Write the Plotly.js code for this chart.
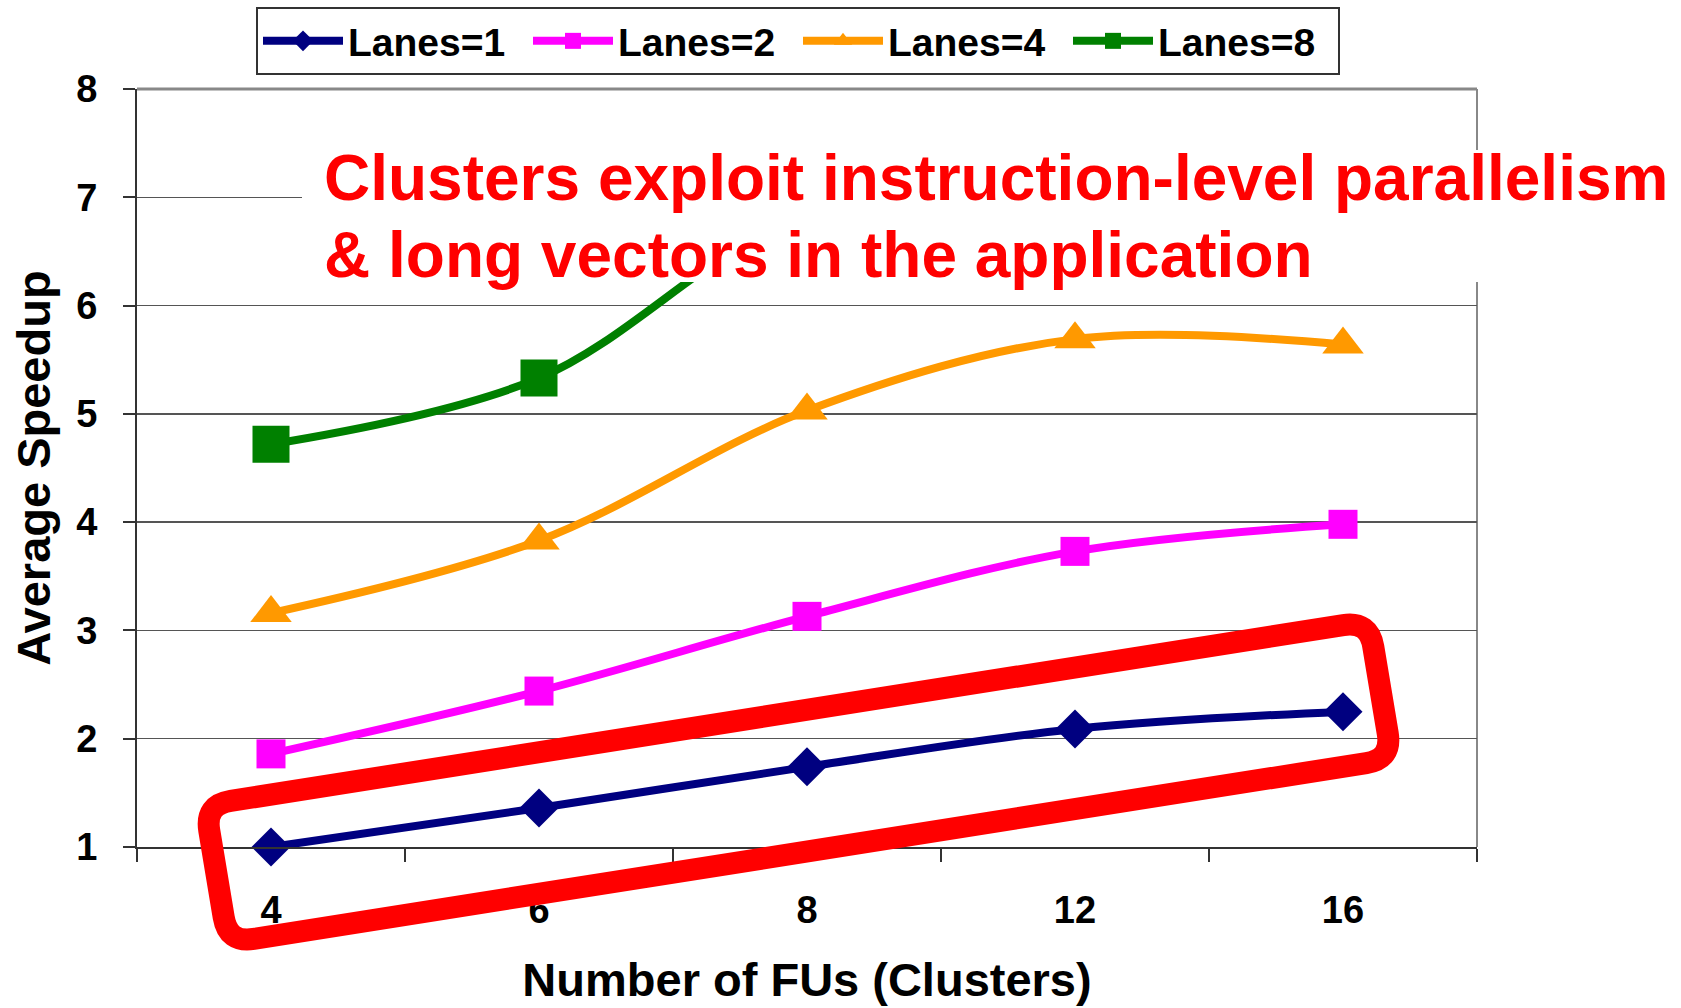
<!DOCTYPE html>
<html>
<head>
<meta charset="utf-8">
<script src="https://cdn.plot.ly/plotly-3.0.1.min.js"></script>
<style>
  html, body { margin: 0; padding: 0; background: #ffffff; }
  #chart { width: 1681px; height: 1008px; }
</style>
</head>
<body>
<div id="chart"></div>
<script>
// ---- Data ----
const categories = ['4', '6', '8', '12', '16'];
const lanes1 = [1.0, 1.36, 1.74, 2.09, 2.25];
const lanes2 = [1.86, 2.44, 3.13, 3.73, 3.98];
const lanes4 = [3.16, 3.83, 5.03, 5.69, 5.64];
const lanes8 = [4.72, 5.33, 6.85, 7.05, 7.15];   // last three hidden behind the callout
const seriesNames = ['Lanes=1', 'Lanes=2', 'Lanes=4', 'Lanes=8'];
const xTitle = 'Number of FUs (Clusters)';
const yTitle = 'Average Speedup';
const yTicks = [1, 2, 3, 4, 5, 6, 7, 8];
const calloutLine1 = 'Clusters exploit instruction-level parallelism';
const calloutLine2 = '&amp; long vectors in the application';

// ---- Layout geometry (pixels) ----
const W = 1681, H = 1008;
const M = { l: 137, r: 204, t: 89, b: 161, autoexpand: false };
const PW = W - M.l - M.r, PH = H - M.t - M.b;
const px = x => (x - M.l) / PW;
const py = y => (H - M.b - y) / PH;

const FONT = 'Arial, "Liberation Sans", sans-serif';

function roundedPath(corners, r) {
  const n = corners.length;
  const pts = [];
  for (let i = 0; i < n; i++) {
    const c = corners[i], p = corners[(i + n - 1) % n], q = corners[(i + 1) % n];
    const u = (a, b) => { const dx = a[0] - b[0], dy = a[1] - b[1]; const d = Math.hypot(dx, dy); return [dx / d, dy / d]; };
    const up = u(p, c), uq = u(q, c);
    pts.push({ a: [c[0] + up[0] * r, c[1] + up[1] * r], c: c, b: [c[0] + uq[0] * r, c[1] + uq[1] * r] });
  }
  const f = v => px(v[0]).toFixed(5) + ',' + py(v[1]).toFixed(5);
  let d = 'M' + f(pts[0].b);
  for (let i = 1; i <= n; i++) {
    const k = pts[i % n];
    d += ' L' + f(k.a) + ' Q' + f(k.c) + ' ' + f(k.b);
  }
  return d + ' Z';
}

const lineW = 8;
const traces = [
  { y: lanes1, name: seriesNames[0], color: '#000080', symbol: 'diamond', size: 30 },
  { y: lanes2, name: seriesNames[1], color: '#FF00FF', symbol: 'square', size: 29 },
  { y: lanes4, name: seriesNames[2], color: '#FF9900', symbol: 'triangle-up', size: 36 },
  { y: lanes8, name: seriesNames[3], color: '#008000', symbol: 'square', size: 37 }
].map(s => ({
  type: 'scatter', mode: 'lines+markers', x: categories, y: s.y, name: s.name,
  line: { color: s.color, width: lineW, shape: 'spline', smoothing: 1 },
  marker: { color: s.color, symbol: s.symbol, size: s.size, line: { width: 0 } },
  cliponaxis: false
}));

const layout = {
  width: W, height: H,
  margin: M,
  paper_bgcolor: '#ffffff', plot_bgcolor: '#ffffff',
  font: { family: FONT, color: '#000000', size: 38, weight: 700 },
  showlegend: true,
  legend: {
    orientation: 'h', x: px(256), xanchor: 'left', y: py(7), yanchor: 'top',
    bordercolor: '#333333', borderwidth: 2, bgcolor: '#ffffff',
    font: { family: FONT, size: 39, weight: 700, color: '#000000' },
    entrywidth: 175, entrywidthmode: 'pixels', itemwidth: 80
  },
  xaxis: {
    type: 'category', categoryorder: 'array', categoryarray: categories,
    range: [-0.5, 4.5], autorange: false,
    tickson: 'boundaries', ticks: 'outside', ticklen: 13, tickwidth: 2, tickcolor: '#333333',
    showline: true, linecolor: '#333333', linewidth: 2,
    showgrid: false, zeroline: false,
    ticklabelstandoff: 28,
    tickfont: { family: FONT, size: 38, weight: 700 },
    title: { text: xTitle, font: { family: FONT, size: 47, weight: 700 }, standoff: 34 },
    automargin: false
  },
  yaxis: {
    range: [1, 8], autorange: false, tickvals: yTicks, ticks: 'outside', ticklen: 12, tickwidth: 2, tickcolor: '#333333',
    showline: true, linecolor: '#333333', linewidth: 2,
    showgrid: true, gridcolor: '#555555', gridwidth: 1.5, zeroline: false,
    ticklabelstandoff: 18,
    tickfont: { family: FONT, size: 38, weight: 700 },
    title: { text: yTitle, font: { family: FONT, size: 47, weight: 700 }, standoff: 11 },
    automargin: false
  },
  shapes: [
    { type: 'line', xref: 'paper', yref: 'paper', x0: 1, x1: 1, y0: 0, y1: 1,
      line: { color: '#888888', width: 2 }, layer: 'below' },
    { type: 'line', xref: 'paper', yref: 'paper', x0: 0, x1: 1, y0: 1, y1: 1,
      line: { color: '#888888', width: 3 }, layer: 'below' },
    { type: 'rect', xref: 'paper', yref: 'paper', x0: px(302), x1: px(1672), y0: py(282), y1: py(150),
      fillcolor: '#ffffff', line: { width: 0 }, layer: 'above' },
    { type: 'path', xref: 'paper', yref: 'paper', layer: 'above',
      path: roundedPath([[205, 805], [1369, 621], [1392, 759], [228, 943]], 26),
      line: { color: '#FF0000', width: 22 }, fillcolor: 'rgba(0,0,0,0)' }
  ],
  annotations: [
    { xref: 'paper', yref: 'paper', x: px(322), y: py(178), xanchor: 'left', yanchor: 'middle',
      text: calloutLine1, showarrow: false, align: 'left',
      font: { family: FONT, size: 64, weight: 700, color: '#FF0000' } },
    { xref: 'paper', yref: 'paper', x: px(322), y: py(255), xanchor: 'left', yanchor: 'middle',
      text: calloutLine2, showarrow: false, align: 'left',
      font: { family: FONT, size: 64, weight: 700, color: '#FF0000' } }
  ]
};

Plotly.newPlot('chart', traces, layout, { displayModeBar: false, staticPlot: true });
</script>
</body>
</html>
